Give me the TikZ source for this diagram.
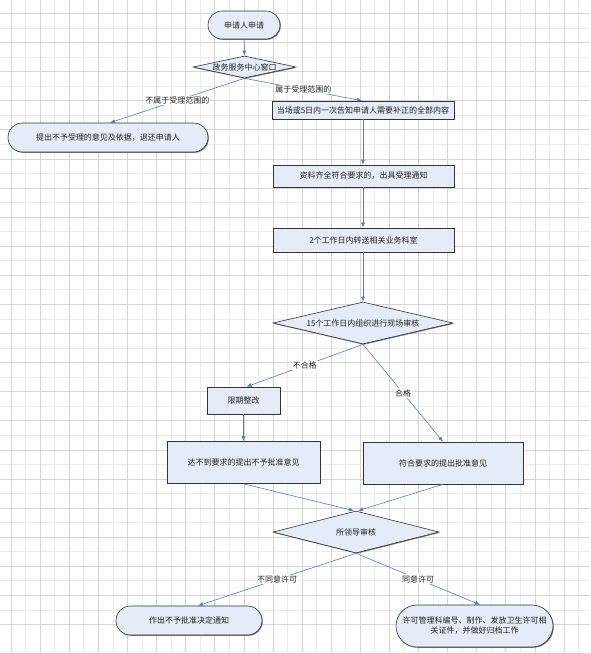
\documentclass[tikz,border=0pt]{standalone}
\usepackage{fontspec}
\setmainfont{Noto Sans CJK SC}
\usetikzlibrary{shapes.geometric,shapes.misc,arrows.meta,shadows}
\definecolor{boxfill}{HTML}{E6ECF7}
\definecolor{edgeblue}{HTML}{4F7FC9}
\definecolor{gridA}{HTML}{D4D4D4}
\definecolor{gridB}{HTML}{EBEBEB}
\definecolor{txt}{HTML}{222222}
\begin{document}
\begin{tikzpicture}[x=1pt,y=-1pt,
  font=\fontsize{8}{10}\selectfont,
  base/.style={draw=black!80, line width=0.6pt, fill=boxfill, text=txt, inner sep=0pt,
    drop shadow={shadow xshift=0.8pt, shadow yshift=-0.8pt, fill=black!55, opacity=1}},
  procbox/.style={base, rectangle},
  termbox/.style={base, rounded rectangle},
  decbox/.style={base, diamond},
  arr/.style={-{Latex[length=5pt,width=4pt]}, draw=edgeblue, line width=0.6pt},
  lab/.style={fill=white, inner sep=1pt, text=txt},
  gridd/.style={draw=gridA, line width=0.6pt},
  gridl/.style={draw=gridB, line width=0.6pt}]
\useasboundingbox (0,0) rectangle (590,654);
\fill[white] (0,0) rectangle (590,654);
% grid
\foreach \i in {0,...,20} \draw[gridl] ({25.55+29.1*\i},0) -- ++(0,654);
\foreach \i in {0,...,20} \draw[gridl] (0,{27.85+29.1*\i}) -- ++(590,0);
\foreach \i in {0,...,20} \draw[gridd] ({11+29.1*\i},0) -- ++(0,654);
\foreach \i in {0,...,22} \draw[gridd] (0,{13.3+29.1*\i}) -- ++(590,0);
% nodes
\node[termbox, minimum width=72pt, minimum height=28pt] (start) at (244,25) {申请人申请};
\node[decbox, minimum width=103pt, minimum height=22pt, aspect=4.7] (win) at (244.5,67) {政务服务中心窗口};
\node[termbox, minimum width=200pt, minimum height=29pt] (reject) at (108,137.5) {提出不予受理的意见及依据，退还申请人};
\node[procbox, minimum width=182pt, minimum height=18pt] (inform) at (363,110) {当场或5日内一次告知申请人需要补正的全部内容};
\node[procbox, minimum width=181pt, minimum height=22pt] (accept) at (363.5,176) {资料齐全符合要求的，出具受理通知};
\node[procbox, minimum width=181pt, minimum height=24pt] (transfer) at (363.5,240) {2个工作日内转送相关业务科室};
\node[decbox, minimum width=180pt, minimum height=42pt, aspect=4.3] (check) at (363,323) {15个工作日内组织进行现场审核};
\node[procbox, minimum width=73pt, minimum height=27pt] (fix) at (243.5,400.5) {限期整改};
\node[procbox, minimum width=153pt, minimum height=42pt] (fail) at (243.5,462.5) {达不到要求的提出不予批准意见};
\node[procbox, minimum width=160pt, minimum height=42pt] (pass) at (443,463) {符合要求的提出批准意见};
\node[decbox, minimum width=166pt, minimum height=42pt, aspect=4] (lead) at (356,532) {所领导审核};
\node[termbox, minimum width=146pt, minimum height=29pt] (deny) at (189,620.5) {作出不予批准决定通知};
\node[termbox, minimum width=157pt, minimum height=42pt, align=center] (grant) at (474.5,626) {许可管理科编号、制作、发放卫生许可相\\关证件，并做好归档工作};
% connectors
\draw[arr] (start) -- (win);
\draw[arr] (win.south) -- node[lab] {不属于受理范围的} ([xshift=2pt]reject.north);
\draw[arr] (win.south) -- node[lab] {属于受理范围的} ([xshift=-1pt]inform.north);
\draw[arr] (inform) -- ([xshift=-0.5pt]accept.north);
\draw[arr] ([xshift=-0.5pt]accept.south) -- ([xshift=-0.5pt]transfer.north);
\draw[arr] ([xshift=-0.5pt]transfer.south) -- (check.north);
\draw[arr] (check.south) -- node[lab] {不合格} ([xshift=3pt]fix.north);
\draw[arr] (check.south) -- node[lab] {合格} (pass.north);
\draw[arr] (fix) -- (fail);
\draw[arr] (fail.south) -- ([xshift=-2pt]lead.north);
\draw[arr] (pass.south) -- ([xshift=2pt]lead.north);
\draw[arr] (lead.south) -- node[lab] {不同意许可} ([xshift=9pt]deny.north);
\draw[arr] (lead.south) -- node[lab] {同意许可} ([xshift=5.5pt]grant.north);
\end{tikzpicture}
\end{document}
